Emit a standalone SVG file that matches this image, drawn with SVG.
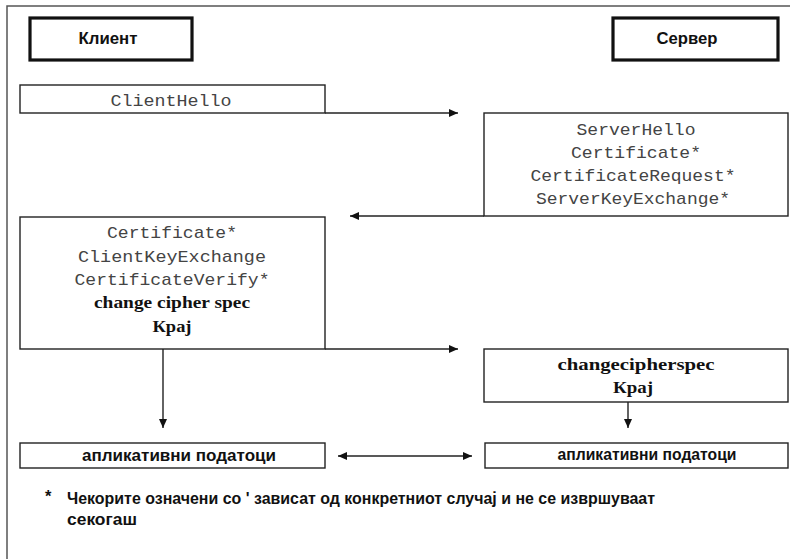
<svg xmlns="http://www.w3.org/2000/svg" width="790" height="559" viewBox="0 0 790 559">
  <style>
    .box { fill: #fff; stroke: #222; stroke-width: 1.4; }
    .role { fill: #fff; stroke: #111; stroke-width: 3.2; }
    .mono { font-family: "Liberation Mono", "Courier New", monospace; font-size: 17px; fill: #444; text-anchor: middle; }
    .serif { font-family: "Liberation Serif", "Times New Roman", serif; font-size: 17px; font-weight: bold; fill: #111; text-anchor: middle; }
    .sans { font-family: "Liberation Sans", Arial, sans-serif; font-weight: bold; fill: #111; }
    .lbl { font-size: 17px; text-anchor: middle; }
    .note { font-size: 16.5px; }
    .conn { fill: none; stroke: #222; stroke-width: 1.4; }
  </style>
  <defs>
    <marker id="arrow" markerUnits="userSpaceOnUse" markerWidth="10" markerHeight="9" refX="9" refY="4" orient="auto-start-reverse">
      <path d="M0,0 L9,4 L0,8 z" fill="#111"/>
    </marker>
  </defs>

  <rect width="790" height="559" fill="#fff"/>
  <!-- outer frame -->
  <path d="M7,559 V6 H790" fill="none" stroke="#555" stroke-width="1.5"/>

  <g id="connectors">
    <path class="conn" d="M325,113 H458" marker-end="url(#arrow)"/>
    <path class="conn" d="M484,216 H350" marker-end="url(#arrow)"/>
    <path class="conn" d="M325,349 H458" marker-end="url(#arrow)"/>
    <path class="conn" d="M163,349 V428" marker-end="url(#arrow)"/>
    <path class="conn" d="M628,402 V428" marker-end="url(#arrow)"/>
    <path class="conn" d="M338,456 H472" marker-start="url(#arrow)" marker-end="url(#arrow)"/>
  </g>

  <g id="client">
    <rect class="role" x="30" y="18" width="162" height="42"/>
    <text class="sans lbl" x="108" y="44" textLength="59" lengthAdjust="spacingAndGlyphs">Клиент</text>
  </g>

  <g id="server">
    <rect class="role" x="613" y="18" width="165" height="42"/>
    <text class="sans lbl" x="687" y="44" textLength="61" lengthAdjust="spacingAndGlyphs">Сервер</text>
  </g>

  <g id="client-hello">
    <rect class="box" x="20" y="85" width="305" height="28"/>
    <text class="mono" x="171" y="106" textLength="121" lengthAdjust="spacingAndGlyphs">ClientHello</text>
  </g>

  <g id="server-hello">
    <rect class="box" x="484" y="113" width="304" height="103"/>
    <text class="mono" x="636" y="135" textLength="119" lengthAdjust="spacingAndGlyphs">ServerHello</text>
    <text class="mono" x="636" y="158" textLength="130" lengthAdjust="spacingAndGlyphs">Certificate*</text>
    <text class="mono" x="633" y="181" textLength="205" lengthAdjust="spacingAndGlyphs">CertificateRequest*</text>
    <text class="mono" x="633" y="204" textLength="194" lengthAdjust="spacingAndGlyphs">ServerKeyExchange*</text>
  </g>

  <g id="client-finish">
    <rect class="box" x="20" y="217" width="305" height="132"/>
    <text class="mono" x="172" y="238" textLength="130" lengthAdjust="spacingAndGlyphs">Certificate*</text>
    <text class="mono" x="172" y="262" textLength="188" lengthAdjust="spacingAndGlyphs">ClientKeyExchange</text>
    <text class="mono" x="172" y="285" textLength="195" lengthAdjust="spacingAndGlyphs">CertificateVerify*</text>
    <text class="serif" x="172" y="308" textLength="156" lengthAdjust="spacingAndGlyphs">change cipher spec</text>
    <text class="serif" x="172" y="332" textLength="39" lengthAdjust="spacingAndGlyphs">Крај</text>
  </g>

  <g id="server-finish">
    <rect class="box" x="484" y="349" width="304" height="53"/>
    <text class="serif" x="636" y="370" textLength="157" lengthAdjust="spacingAndGlyphs">changecipherspec</text>
    <text class="serif" x="633" y="393" textLength="40" lengthAdjust="spacingAndGlyphs">Крај</text>
  </g>

  <g id="client-data">
    <rect class="box" x="20" y="443" width="305" height="25"/>
    <text class="sans lbl" x="179" y="461" textLength="194" lengthAdjust="spacingAndGlyphs">апликативни податоци</text>
  </g>

  <g id="server-data">
    <rect class="box" x="485" y="443" width="303" height="25"/>
    <text class="sans lbl" x="647" y="460" textLength="179" lengthAdjust="spacingAndGlyphs">апликативни податоци</text>
  </g>

  <g id="footnote">
    <text class="sans note" x="45" y="502">*</text>
    <text class="sans note" x="67" y="504" textLength="588" lengthAdjust="spacingAndGlyphs">Чекорите означени со ' зависат од конкретниот случај и не се извршуваат</text>
    <text class="sans note" x="67" y="525" textLength="70" lengthAdjust="spacingAndGlyphs">секогаш</text>
  </g>
</svg>
